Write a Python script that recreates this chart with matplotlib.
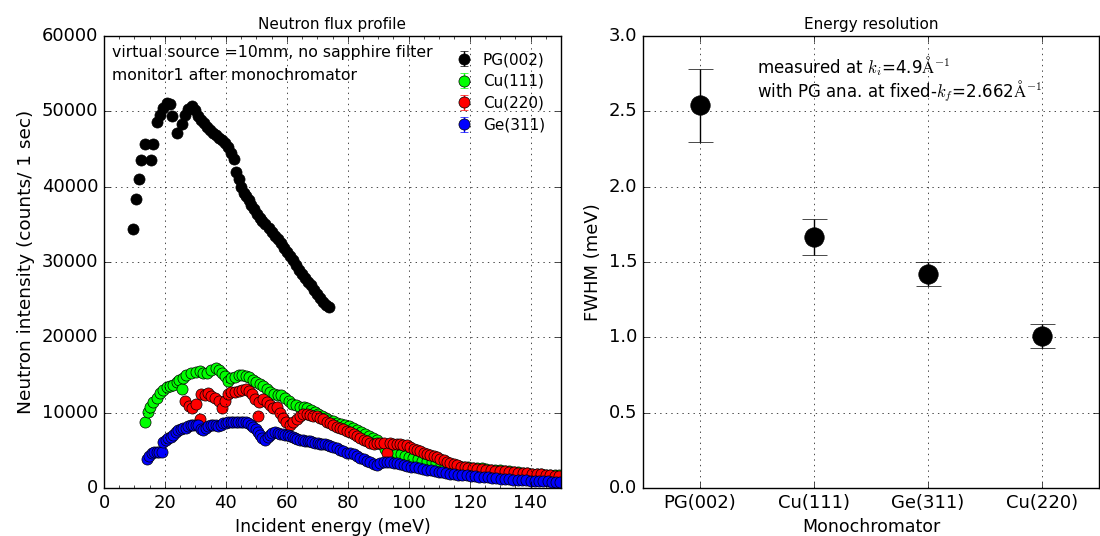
import numpy as np
import matplotlib
matplotlib.use('Agg')
import matplotlib.pyplot as plt

plt.style.use('classic')
plt.rcParams['figure.facecolor'] = 'white'
plt.rcParams['savefig.facecolor'] = 'white'
plt.rcParams['font.family'] = ['DejaVu Sans']

# ---- neutron flux data (incident energy in meV, counts / 1 sec) ----
pg_e = [9.4, 10.4, 11.5, 12.1, 13.5, 15.4, 16.2, 17.3, 18.4, 19.5, 20.6, 21.7, 22.4, 23.8,
        25.5, 26.6, 27.7, 28.8, 29.9, 30.8, 31.8, 32.8, 33.8, 34.8, 35.8, 36.8, 37.8, 38.8,
        39.8, 40.8, 41.8, 42.6, 43.4, 44.2, 45.0, 45.8, 46.6, 47.5, 48.4, 49.3, 50.2, 51.1,
        52.0, 53.0, 54.0, 55.0, 56.0, 57.0, 58.0, 59.0, 60.0, 61.0, 62.0, 63.0, 64.0, 65.0,
        66.0, 67.0, 68.0, 69.0, 70.0, 71.0, 72.0, 73.0, 73.9]
pg_i = [34400, 38300, 41000, 43600, 45700, 43500, 45700, 48600, 49500, 50400, 51100, 51000, 49400, 47100,
        48300, 49500, 50300, 50700, 50200, 49400, 48900, 48400, 47900, 47500, 47100, 46800, 46500, 46200,
        45800, 45300, 44500, 43700, 42000, 41000, 40000, 39200, 38700, 38200, 37600, 37000, 36400, 35900,
        35500, 35000, 34500, 34000, 33400, 33000, 32500, 31900, 31300, 30800, 30200, 29600, 29000, 28400,
        27900, 27400, 26900, 26300, 25700, 25200, 24700, 24300, 24000]

cu111_e = [13.5, 14.3, 15.2, 16.2, 17.3, 18.4, 19.5, 20.6, 21.6, 22.7, 23.8, 24.6, 25.5, 25.8,
           27.0, 28.6, 30.2, 31.5, 32.6, 33.8, 35.2, 36.6, 37.8, 38.8, 39.8, 40.8, 41.8, 43.0,
           44.2, 45.4, 46.6, 47.7, 48.8, 50.0, 51.1, 52.3, 53.5, 54.6, 55.8, 57.0, 58.2, 59.4,
           60.6, 61.8, 63.0, 64.3, 65.5, 66.7, 67.9, 69.1, 70.3, 71.5, 72.8, 74.0, 75.3, 76.6,
           77.9, 79.2, 80.5, 81.8, 83.1, 84.4, 85.7, 87.0, 88.3, 89.6, 90.9, 92.2, 93.5, 94.8,
           96.1, 97.4, 98.7, 100.0, 101.5, 103.0, 104.5, 106.0, 107.5, 109.0, 110.5, 112.0, 113.5,
           115.0, 116.5, 118.0, 119.5, 121.0, 122.5, 124.0, 125.5, 127.0, 128.5, 130.0, 131.5,
           133.0, 134.5, 136.0, 137.5, 139.0, 140.5, 142.0, 143.5, 145.0, 146.5, 148.0, 149.5]
cu111_i = [8800, 10100, 10800, 11400, 12000, 12600, 13000, 13400, 13600, 13700, 14100, 14300, 13100, 14600,
           15000, 15200, 15400, 15500, 15200, 15200, 15600, 15900, 15700, 15300, 14900, 14200, 14600, 14800,
           15000, 15000, 14900, 14700, 14400, 14100, 13800, 13500, 13100, 12700, 12500, 12400, 12300, 12000,
           11600, 11100, 11000, 10800, 10700, 10600, 10300, 10100, 9800, 9600, 9300, 9050, 8900, 8600,
           8500, 8400, 8200, 7900, 7700, 7400, 7200, 6900, 6600, 6400, 5900, 5200, 4900, 4700,
           4600, 4500, 4300, 4100, 3950, 3800, 3650, 3550, 3450, 3300, 3200, 3100, 3000,
           2950, 2880, 2830, 2780, 2700, 2640, 2600, 2550, 2450, 2400, 2350, 2280,
           2200, 2150, 2100, 2050, 1970, 1920, 1880, 1830, 1780, 1750, 1720, 1700]

cu220_e = [26.6, 27.8, 29.0, 30.2, 31.5, 31.8, 33.0, 34.0, 35.2, 36.4, 37.6, 38.6, 39.7, 40.8,
           41.8, 43.0, 44.2, 45.4, 46.6, 47.7, 48.7, 49.7, 50.6, 51.0, 52.3, 53.4, 54.5, 55.6,
           56.7, 57.8, 58.9, 59.9, 61.0, 62.1, 63.2, 64.3, 65.4, 66.5, 67.6, 68.7, 69.8, 70.9,
           72.0, 73.1, 74.2, 75.3, 76.4, 77.5, 78.6, 79.7, 80.8, 81.9, 83.0, 84.1, 85.2, 86.3,
           87.4, 88.5, 89.6, 90.7, 91.8, 92.8, 93.9, 95.0, 96.1, 97.2, 98.3, 99.4, 100.5, 101.6,
           102.7, 103.8, 104.9, 106.0, 107.1, 108.2, 109.3, 110.4, 111.5, 112.6, 113.7, 114.8,
           116.0, 117.2, 118.4, 119.6, 121.0, 122.5, 124.0, 125.5, 127.0, 128.5, 130.0, 131.5,
           133.0, 134.5, 136.0, 137.5, 139.0, 140.5, 142.0, 143.5, 145.0, 146.5, 148.0, 149.5]
cu220_i = [11500, 10900, 10600, 11200, 9100, 12500, 12300, 12600, 12200, 12000, 11600, 10600, 11600, 12500,
           12800, 12800, 12900, 13000, 13200, 12900, 12500, 11800, 9500, 11400, 11800, 11400, 11000, 10600,
           10700, 10000, 9300, 8800, 8400, 8700, 9200, 9500, 9800, 9800, 9700, 9600, 9500, 9300,
           9100, 8800, 8600, 8400, 8100, 7900, 7800, 7600, 7400, 7200, 6900, 6600, 6400, 6200,
           6000, 5900, 5950, 6000, 6000, 4600, 5950, 5900, 5900, 5800, 5750, 5650, 5450, 5200,
           5000, 4850, 4700, 4550, 4400, 4250, 4100, 3900, 3700, 3450, 3300, 3150,
           3000, 2850, 2750, 2650, 2600, 2550, 2500, 2420, 2370, 2300, 2250, 2200,
           2150, 2100, 2050, 2000, 1950, 1900, 1850, 1800, 1720, 1680, 1620, 1580]

ge311_e = [14.0, 14.8, 15.6, 16.5, 17.3, 18.2, 19.0, 19.5, 20.3, 21.1, 21.9, 22.7, 23.5, 24.4,
           25.2, 26.0, 26.9, 27.7, 28.5, 29.3, 30.1, 30.9, 31.8, 32.6, 33.4, 34.2, 35.1, 35.9,
           36.7, 37.5, 38.4, 39.2, 40.0, 40.8, 41.6, 42.4, 43.3, 44.1, 44.9, 45.7, 46.5, 47.4,
           48.2, 49.0, 49.8, 50.6, 51.2, 52.0, 52.8, 53.7, 54.5, 55.3, 56.1, 57.0, 57.8, 58.6,
           59.4, 60.3, 61.1, 61.9, 62.7, 63.5, 64.3, 65.2, 66.0, 66.8, 67.6, 68.4, 69.3, 70.1,
           70.9, 71.7, 72.5, 73.4, 74.2, 75.3, 76.4, 77.5, 78.6, 79.7, 80.8, 81.9, 83.0, 84.1,
           85.2, 86.3, 87.4, 88.5, 89.6, 90.7, 91.8, 92.9, 94.0, 95.1, 96.2, 97.3, 98.4, 99.5,
           100.7, 102.0, 103.3, 104.6, 105.9, 107.2, 108.5, 109.8, 111.1, 112.4, 113.7, 115.0,
           116.3, 117.6, 119.0, 120.4, 121.8, 123.2, 124.6, 126.0, 127.4, 128.8, 130.2, 131.6,
           133.0, 134.4, 135.8, 137.2, 138.6, 140.0, 141.4, 142.8, 144.2, 145.6, 147.0, 148.4, 149.8]
ge311_i = [3900, 4300, 4600, 4800, 4800, 4800, 4800, 6100, 6400, 6600, 6800, 7000, 7400, 7700,
           7800, 7900, 8000, 8200, 8300, 8400, 8400, 8300, 7800, 7700, 8000, 8200, 8300, 8400,
           8300, 8200, 8400, 8600, 8600, 8700, 8800, 8800, 8700, 8700, 8800, 8800, 8700, 8600,
           8400, 8100, 7800, 7400, 7000, 6600, 6400, 6800, 7100, 7300, 7400, 7300, 7200, 7200,
           7100, 7000, 6900, 6800, 6700, 6500, 6400, 6400, 6300, 6200, 6200, 6100, 6000, 6000,
           5900, 5800, 5800, 5700, 5600, 5500, 5300, 5050, 4850, 4700, 4650, 4550, 4250, 4000,
           3800, 3600, 3450, 3200, 3100, 3300, 3450, 3450, 3400, 3350, 3280, 3200, 3050, 2950,
           2850, 2750, 2650, 2550, 2450, 2380, 2280, 2180, 2080, 1980, 1900, 1830,
           1780, 1730, 1680, 1620, 1570, 1520, 1460, 1400, 1350, 1300, 1250, 1200,
           1150, 1100, 1060, 1030, 1000, 980, 960, 940, 910, 880, 860, 840, 820]

# ---- energy resolution data ----
monos = ['PG(002)', 'Cu(111)', 'Ge(311)', 'Cu(220)']
fwhm = [2.54, 1.665, 1.42, 1.01]
fwhm_lo = [2.295, 1.548, 1.34, 0.93]
fwhm_hi = [2.78, 1.785, 1.50, 1.09]

fig = plt.figure(figsize=(11, 5.36), dpi=100)
ax1 = fig.add_axes([104/1100., 48/536., 457/1100., 452/536.])
ax2 = fig.add_axes([643/1100., 48/536., 456/1100., 452/536.])

series = [(pg_e, pg_i, 'k', 'PG(002)'),
          (cu111_e, cu111_i, '#00ff00', 'Cu(111)'),
          (cu220_e, cu220_i, '#ff0000', 'Cu(220)'),
          (ge311_e, ge311_i, '#0000ff', 'Ge(311)')]
for e, inten, c, lab in series:
    inten = np.array(inten, dtype=float)
    ax1.errorbar(e, inten, yerr=np.sqrt(inten), fmt='o', color=c, ecolor=c,
                 mec='k', ms=8, capsize=3, label=lab)

ax1.set_xlim(0, 150)
ax1.set_ylim(0, 60000)
ax1.set_xticks(np.arange(0, 151, 20))
ax1.set_xticks(np.arange(0, 151, 5), minor=True)
ax1.grid(True, which='major')
ax1.tick_params(labelsize=13)
ax1.set_xlabel('Incident energy (meV)', fontsize=12.5)
ax1.set_ylabel('Neutron intensity (counts/ 1 sec)', fontsize=13.3)
ax1.set_title('Neutron flux profile', fontsize=11)
ax1.text(2.6, 57800, 'virtual source =10mm, no sapphire filter', fontsize=11.3, va='center')
ax1.text(2.6, 54800, 'monitor1 after monochromator', fontsize=11.3, va='center')
ax1.legend(loc='upper right', numpoints=1, frameon=False, fontsize=11,
           handletextpad=0.25, labelspacing=0.45, borderaxespad=0.75, borderpad=0.3)

xs = np.arange(len(monos))
yerr = [np.array(fwhm) - np.array(fwhm_lo), np.array(fwhm_hi) - np.array(fwhm)]
ax2.errorbar(xs, fwhm, yerr=yerr, fmt='o', color='k', ms=14, capsize=9)
ax2.set_xlim(-0.5, 3.5)
ax2.set_ylim(0, 3.0)
ax2.set_xticks(xs)
ax2.set_xticklabels(monos)
ax2.set_yticks(np.arange(0, 3.01, 0.5))
ax2.grid(True)
ax2.tick_params(labelsize=13)
ax2.set_xlabel('Monochromator', fontsize=12.5)
ax2.set_ylabel('FWHM (meV)', fontsize=13)
ax2.set_title('Energy resolution', fontsize=11)
ax2.text(0.5, 2.715,
         'measured at $k_i$=4.9$\\mathrm{\\AA}^{-1}$\n'
         'with PG ana. at fixed-$k_f$=2.662$\\mathrm{\\AA}^{-1}$',
         fontsize=12, va='center', linespacing=1.0)

fig.savefig('out.png', dpi=100)
